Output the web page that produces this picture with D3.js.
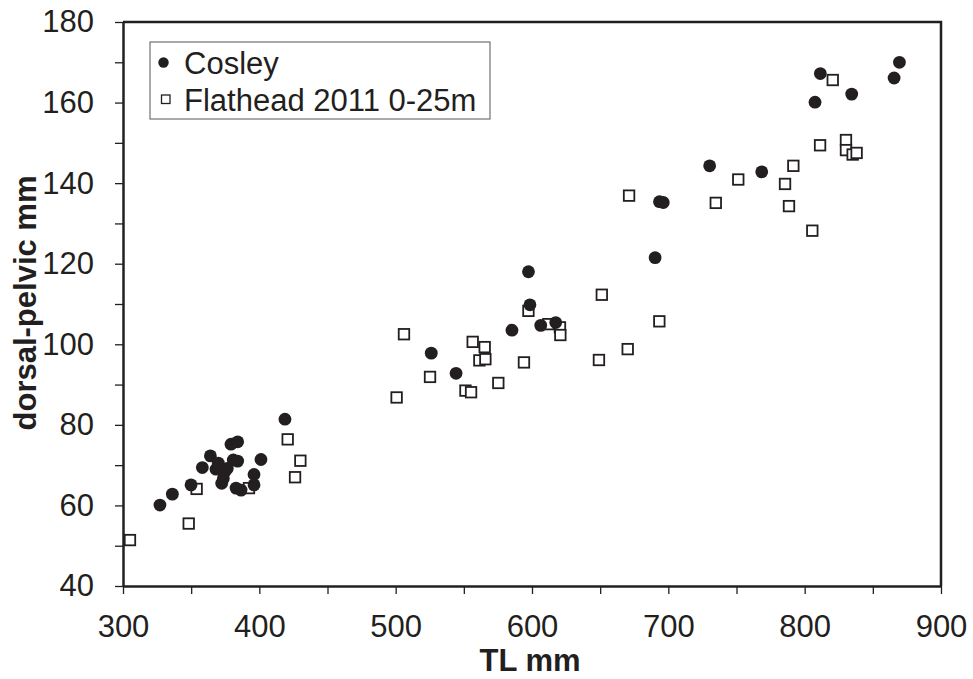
<!DOCTYPE html>
<html>
<head>
<meta charset="utf-8">
<script src="https://cdn.jsdelivr.net/npm/d3@7"></script>
<style>
  html, body { margin: 0; padding: 0; background: #fff; }
  svg { display: block; font-family: "Liberation Sans", Arial, sans-serif; }
</style>
</head>
<body>
<svg id="chart" width="973" height="679"></svg>
<script>
// ---- data ----
const cosleyTL = [327.1, 336.2, 349.9, 358.2, 364.1, 379.2, 384.1, 401.2, 396.1, 396.1,
  382.9, 386.6, 372.4, 369.9, 374.8, 380.9, 384.1, 368.2, 373.6, 376.5, 418.8,
  526.1, 544.3, 585.3, 597.4, 598.5, 606.4, 617.4, 690.3, 693.5, 696.3,
  730.3, 768.5, 807.6, 811.5, 834.5, 865.6, 869.5];
const cosleyDP = [60.1, 62.8, 65.1, 69.4, 72.3, 75.2, 75.8, 71.4, 67.7, 65.1,
  64.3, 63.8, 65.5, 70.5, 68.4, 71.3, 71.0, 69.0, 66.7, 69.2, 81.4,
  97.8, 92.8, 103.5, 118.0, 109.8, 104.7, 105.4, 121.5, 135.4, 135.2,
  144.3, 142.8, 160.1, 167.2, 162.1, 166.1, 170.0];
const flatheadTL = [305.1, 348.2, 354.0, 392.4, 420.8, 426.2, 430.1,
  500.7, 506.1, 525.2, 551.2, 555.3, 556.5, 561.4, 565.3, 565.8, 575.3, 594.1, 597.4,
  612.0, 620.5, 620.8, 649.1, 651.2, 670.2, 671.2, 693.4,
  734.8, 751.3, 785.6, 788.5, 791.7, 805.6, 811.3, 820.6, 830.3, 830.3, 835.2, 838.1];
const flatheadDP = [51.4, 55.5, 64.1, 64.3, 76.4, 67.0, 71.1,
  86.8, 102.5, 91.9, 88.5, 88.1, 100.6, 96.0, 99.3, 96.3, 90.4, 95.5, 108.3,
  105.0, 104.2, 102.3, 96.1, 112.3, 98.8, 136.9, 105.7,
  135.1, 140.9, 139.8, 134.3, 144.3, 128.2, 149.4, 165.6, 150.7, 148.2, 147.1, 147.5];
const xTicks = [300, 400, 500, 600, 700, 800, 900];
const xMinor = [350, 450, 550, 650, 750, 850];
const yTicks = [40, 60, 80, 100, 120, 140, 160, 180];
const yMinor = [50, 70, 90, 110, 130, 150, 170];
const seriesNames = ["Cosley", "Flathead 2011 0-25m"];
const xTitle = "TL mm";
const yTitle = "dorsal-pelvic mm";

// ---- layout ----
const ink = "#231f20";
const L = 123, R = 941, T = 22, B = 586;
const svg = d3.select("#chart");
const x = d3.scaleLinear().domain([300, 900]).range([L, R]);
const y = d3.scaleLinear().domain([40, 180]).range([B, T]);

// frame top/right
svg.append("path")
  .attr("d", `M${L},${T}H${R}V${B}`)
  .attr("fill", "none").attr("stroke", ink).attr("stroke-width", 2.5);

function styleAxis(g) {
  g.select(".domain").attr("stroke", ink).attr("stroke-width", 2.5);
  g.selectAll(".tick line").attr("stroke", ink).attr("stroke-width", 1.3);
  g.selectAll(".tick text").attr("fill", ink).style("font-size", "31px")
    .style("font-family", "'Liberation Sans', Arial, sans-serif");
}

// minor ticks
svg.append("g").attr("transform", `translate(0,${B})`)
  .call(d3.axisBottom(x).tickValues(xMinor).tickSize(8).tickSizeOuter(0).tickFormat(""))
  .call(g => { g.select(".domain").remove(); g.selectAll(".tick line").attr("stroke", ink).attr("stroke-width", 1.3); });
svg.append("g").attr("transform", `translate(${L},0)`)
  .call(d3.axisLeft(y).tickValues(yMinor).tickSize(8).tickSizeOuter(0).tickFormat(""))
  .call(g => { g.select(".domain").remove(); g.selectAll(".tick line").attr("stroke", ink).attr("stroke-width", 1.3); });

// major axes
svg.append("g").attr("transform", `translate(0,${B})`)
  .call(d3.axisBottom(x).tickValues(xTicks).tickSize(8).tickSizeOuter(0).tickPadding(21).tickFormat(d3.format("d")))
  .call(styleAxis);
svg.append("g").attr("transform", `translate(${L},0)`)
  .call(d3.axisLeft(y).tickValues(yTicks).tickSize(8).tickSizeOuter(0).tickPadding(21).tickFormat(d3.format("d")))
  .call(styleAxis);

// axis titles
svg.append("text").attr("x", 530).attr("y", 671).attr("text-anchor", "middle")
  .attr("fill", ink).style("font-size", "31px").style("font-weight", "bold").text(xTitle);
svg.append("text").attr("transform", "translate(36,303) rotate(-90)").attr("text-anchor", "middle")
  .attr("fill", ink).style("font-size", "31px").style("font-weight", "bold").text(yTitle);

// points
const flat = flatheadTL.map((v, i) => [v, flatheadDP[i]]);
const cos = cosleyTL.map((v, i) => [v, cosleyDP[i]]);
const sq = 10.5;
svg.append("g").selectAll("rect").data(flat).join("rect")
  .attr("x", d => x(d[0]) - sq / 2).attr("y", d => y(d[1]) - sq / 2)
  .attr("width", sq).attr("height", sq)
  .attr("fill", "#fff").attr("stroke", ink).attr("stroke-width", 1.8);
svg.append("g").selectAll("circle").data(cos).join("circle")
  .attr("cx", d => x(d[0])).attr("cy", d => y(d[1])).attr("r", 6.4)
  .attr("fill", ink);

// legend
const lg = svg.append("g");
lg.append("rect").attr("x", 150).attr("y", 42).attr("width", 340).attr("height", 77)
  .attr("fill", "#fff").attr("stroke", "#555").attr("stroke-width", 1);
lg.append("circle").attr("cx", 163.5).attr("cy", 62.5).attr("r", 5.2).attr("fill", ink);
lg.append("rect").attr("x", 161.5).attr("y", 95).attr("width", 8.5).attr("height", 8.5)
  .attr("fill", "#fff").attr("stroke", ink).attr("stroke-width", 1.3);
lg.append("text").attr("x", 184).attr("y", 74).attr("fill", ink).style("font-size", "31px").text(seriesNames[0]);
lg.append("text").attr("x", 184).attr("y", 111).attr("fill", ink).style("font-size", "31px").text(seriesNames[1]);
</script>
</body>
</html>
